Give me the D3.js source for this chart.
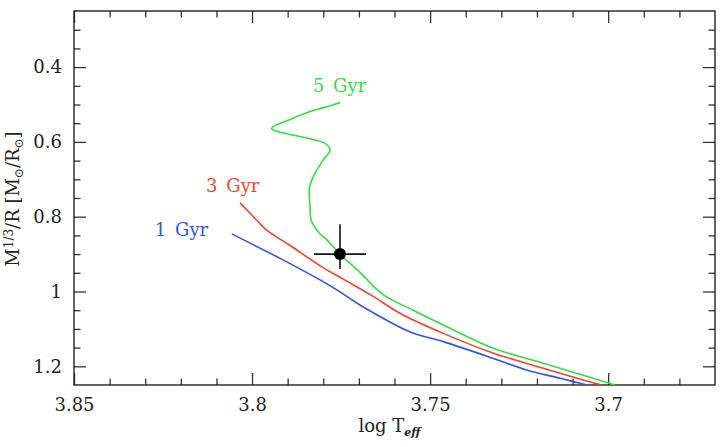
<!DOCTYPE html>
<html>
<head>
<meta charset="utf-8">
<script src="https://cdn.jsdelivr.net/npm/d3@7"></script>
<style>
  html, body { margin: 0; padding: 0; background: #fff; }
  svg { display: block; }
  text { font-family: "DejaVu Serif", serif; }
</style>
</head>
<body>
<div id="chart"></div>
<script>
// ---- Data ----
const ages = ["1 Gyr", "3 Gyr", "5 Gyr"];
const colors = ["#3355dd", "#ee4433", "#33dd44"];

const logT1 = [3.8057, 3.7912, 3.7809, 3.7753, 3.7697, 3.7556, 3.7463, 3.7322, 3.7229, 3.7135, 3.7060];
const mr1   = [0.846, 0.916, 0.969, 1.001, 1.036, 1.108, 1.134, 1.179, 1.210, 1.232, 1.250];

const logT3 = [3.8034, 3.7987, 3.7959, 3.7893, 3.7804, 3.7744, 3.7660, 3.7585, 3.7463, 3.7322, 3.7182, 3.7088, 3.7018];
const mr3   = [0.763, 0.809, 0.836, 0.877, 0.934, 0.967, 1.013, 1.058, 1.112, 1.165, 1.205, 1.232, 1.250];

const logT5 = [3.7753, 3.7801, 3.7837, 3.7893, 3.7945, 3.7795, 3.7781, 3.7800, 3.7828, 3.7839, 3.7837, 3.7834, 3.7811, 3.7790, 3.7753, 3.7697, 3.7631, 3.7547, 3.7453, 3.7322, 3.7182, 3.7042, 3.6981];
const mr5   = [0.495, 0.509, 0.519, 0.540, 0.564, 0.604, 0.622, 0.648, 0.693, 0.724, 0.773, 0.809, 0.844, 0.862, 0.900, 0.949, 1.009, 1.050, 1.094, 1.152, 1.192, 1.232, 1.250];

const labelLogT = [3.8273, 3.8129, 3.7829];
const labelMR   = [0.852, 0.734, 0.467];

const starLogT = 3.7753, starMR = 0.900;
const starErrT = 0.0073, starErrUp = 0.080, starErrDown = 0.040;

const xDomain = [3.85, 3.67];
const yDomain = [0.25, 1.25];
const xMajor = [3.85, 3.80, 3.75, 3.70];
const xMajorLabels = ["3.85", "3.8", "3.75", "3.7"];
const xMinor = [3.84, 3.83, 3.82, 3.81, 3.79, 3.78, 3.77, 3.76, 3.74, 3.73, 3.72, 3.71, 3.69, 3.68];
const yMajor = [0.4, 0.6, 0.8, 1.0, 1.2];
const yMajorLabels = ["0.4", "0.6", "0.8", "1", "1.2"];
const yMinor = [0.3, 0.35, 0.45, 0.5, 0.55, 0.65, 0.7, 0.75, 0.85, 0.9, 0.95, 1.05, 1.1, 1.15];

// ---- Layout ----
const W = 725, H = 447;
const m = { left: 74, top: 11, right: 10, bottom: 62 };
const pw = W - m.left - m.right, ph = H - m.top - m.bottom;

const svg = d3.select("#chart").append("svg").attr("width", W).attr("height", H);
svg.append("rect").attr("width", W).attr("height", H).attr("fill", "#fff");
const g = svg.append("g").attr("transform", `translate(${m.left},${m.top})`);

const x = d3.scaleLinear().domain(xDomain).range([0, pw]);
const y = d3.scaleLinear().domain(yDomain).range([0, ph]);

const axisColor = "#333";
const majLen = 12, minLen = 6.5;

function styleAxis(sel) {
  sel.select(".domain").remove();
  sel.selectAll(".tick line").attr("stroke", axisColor).attr("stroke-width", 1.3);
  sel.selectAll("text").attr("fill", "#222").style("font-size", "18px").style("font-family", "DejaVu Serif, serif");
}

// bottom
g.append("g").attr("transform", `translate(0,${ph})`)
  .call(d3.axisBottom(x).tickValues(xMajor).tickSizeInner(-majLen).tickSizeOuter(0).tickPadding(13)
    .tickFormat((d, i) => xMajorLabels[i])).call(styleAxis);
g.append("g").attr("transform", `translate(0,${ph})`)
  .call(d3.axisBottom(x).tickValues(xMinor).tickSizeInner(-minLen).tickSizeOuter(0).tickFormat(""))
  .call(styleAxis);
// top
g.append("g")
  .call(d3.axisTop(x).tickValues(xMajor).tickSizeInner(-majLen).tickSizeOuter(0).tickFormat(""))
  .call(styleAxis);
g.append("g")
  .call(d3.axisTop(x).tickValues(xMinor).tickSizeInner(-minLen).tickSizeOuter(0).tickFormat(""))
  .call(styleAxis);
// left
g.append("g")
  .call(d3.axisLeft(y).tickValues(yMajor).tickSizeInner(-majLen).tickSizeOuter(0).tickPadding(12)
    .tickFormat((d, i) => yMajorLabels[i])).call(styleAxis);
g.append("g")
  .call(d3.axisLeft(y).tickValues(yMinor).tickSizeInner(-minLen).tickSizeOuter(0).tickFormat(""))
  .call(styleAxis);
// right
g.append("g").attr("transform", `translate(${pw},0)`)
  .call(d3.axisRight(y).tickValues(yMajor).tickSizeInner(-majLen).tickSizeOuter(0).tickFormat(""))
  .call(styleAxis);
g.append("g").attr("transform", `translate(${pw},0)`)
  .call(d3.axisRight(y).tickValues(yMinor).tickSizeInner(-minLen).tickSizeOuter(0).tickFormat(""))
  .call(styleAxis);

// frame
g.append("rect").attr("width", pw).attr("height", ph)
  .attr("fill", "none").attr("stroke", "#222").attr("stroke-width", 1.4);

// clip
svg.append("clipPath").attr("id", "clip").append("rect").attr("width", pw).attr("height", ph);
const plot = g.append("g").attr("clip-path", "url(#clip)");

const line = d3.line().x(d => x(d[0])).y(d => y(d[1])).curve(d3.curveCatmullRom.alpha(0.5));
const series = [
  d3.zip(logT1, mr1),
  d3.zip(logT3, mr3),
  d3.zip(logT5, mr5)
];
series.forEach((s, i) => {
  plot.append("path").datum(s).attr("d", line)
    .attr("fill", "none").attr("stroke", colors[i]).attr("stroke-width", 1.6)
    .attr("stroke-linejoin", "round");
});

// labels
ages.forEach((a, i) => {
  g.append("text").attr("x", x(labelLogT[i])).attr("y", y(labelMR[i]))
    .attr("fill", colors[i]).style("font-size", "18px").style("word-spacing", "3px")
    .text(a);
});

// star with error bars
plot.append("line")
  .attr("x1", x(starLogT + starErrT)).attr("x2", x(starLogT - starErrT))
  .attr("y1", y(starMR)).attr("y2", y(starMR))
  .attr("stroke", "#111").attr("stroke-width", 1.6);
plot.append("line")
  .attr("x1", x(starLogT)).attr("x2", x(starLogT))
  .attr("y1", y(starMR - starErrUp)).attr("y2", y(starMR + starErrDown))
  .attr("stroke", "#111").attr("stroke-width", 1.6);
plot.append("circle").attr("cx", x(starLogT)).attr("cy", y(starMR)).attr("r", 6).attr("fill", "#000");

// x title
const xt = svg.append("text").attr("x", m.left + pw / 2 - 5).attr("y", 432)
  .attr("text-anchor", "middle").attr("fill", "#222").style("font-size", "18px");
xt.append("tspan").text("log  T");
xt.append("tspan").attr("dy", 4).style("font-size", "11px").style("font-style", "italic").style("font-weight", "bold").text("eff");

// y title
const yt = svg.append("text")
  .attr("transform", `translate(19,${m.top + 188}) rotate(-90)`)
  .attr("text-anchor", "middle").attr("fill", "#222").style("font-size", "18px");
yt.append("tspan").text("M");
yt.append("tspan").attr("dy", -6).style("font-size", "12px").text("1/3");
yt.append("tspan").attr("dy", 6).text("/R [M");
yt.append("tspan").attr("dy", 4).style("font-size", "12px").text("⊙");
yt.append("tspan").attr("dy", -4).text("/R");
yt.append("tspan").attr("dy", 4).style("font-size", "12px").text("⊙");
yt.append("tspan").attr("dy", -4).text("]");
</script>
</body>
</html>
